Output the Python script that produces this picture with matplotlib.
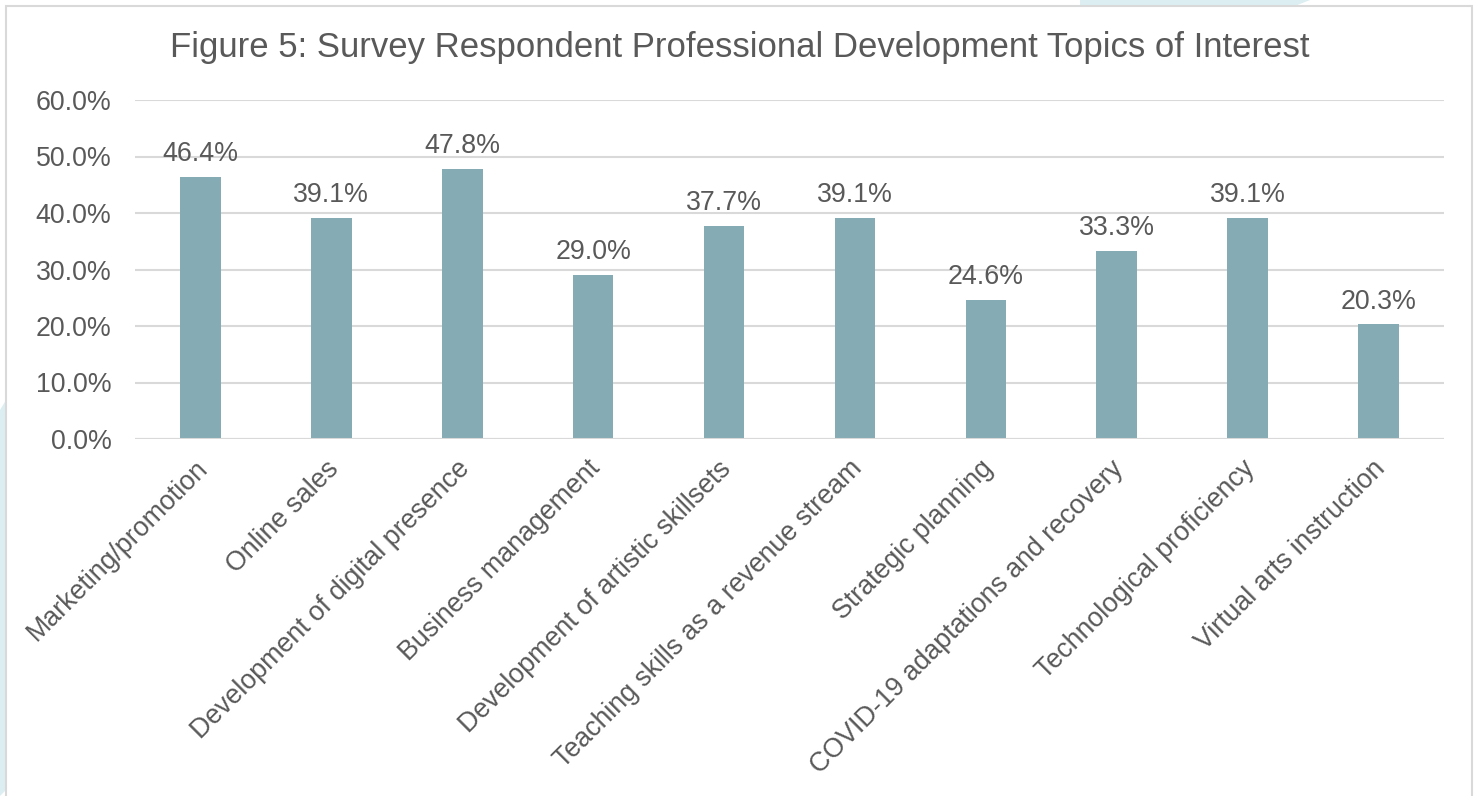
import matplotlib.pyplot as plt
from matplotlib.patches import Polygon, Rectangle
from matplotlib.transforms import ScaledTranslation
import numpy as np

categories = [
    "Marketing/promotion",
    "Online sales",
    "Development of digital presence",
    "Business management",
    "Development of artistic skillsets",
    "Teaching skills as a revenue stream",
    "Strategic planning",
    "COVID-19 adaptations and recovery",
    "Technological proficiency",
    "Virtual arts instruction",
]
values = [46.4, 39.1, 47.8, 29.0, 37.7, 39.1, 24.6, 33.3, 39.1, 20.3]
yticks = [0, 10, 20, 30, 40, 50, 60]

plt.rcParams['font.family'] = ['Liberation Sans', 'DejaVu Sans']
text_col = '#595959'
bar_col = '#85abb5'
grid_col = '#d9d9d9'
fs = 19.3

W, H = 1477, 796
fig = plt.figure(figsize=(W / 100, H / 100), dpi=100)
fig.patch.set_facecolor('white')

# light decorative shapes behind the chart frame
def fx(px):
    return px / W

def fy(py):
    return 1 - py / H

fig.patches.append(Polygon([(fx(1080), fy(0)), (fx(1310), fy(0)), (fx(1290), fy(8)), (fx(1080), fy(8))],
                           closed=True, transform=fig.transFigure, facecolor='#dceef2', edgecolor='none', zorder=-3))
fig.patches.append(Polygon([(fx(0), fy(410)), (fx(6), fy(400)), (fx(6), fy(790)), (fx(0), fy(796))],
                           closed=True, transform=fig.transFigure, facecolor='#dceef2', edgecolor='none', zorder=-3))
fig.patches.append(Rectangle((fx(6), fy(800)), fx(1472 - 6), fy(6) - fy(800), transform=fig.transFigure,
                             facecolor='white', edgecolor='#d9d9d9', linewidth=1.5, zorder=-2))

# plot area
left, right = 135, 1444
top, bottom = 100, 439
ax = fig.add_axes([fx(left), fy(bottom), fx(right - left), fy(top) - fy(bottom)])
ax.set_facecolor('none')

x = np.arange(len(categories))
ax.bar(x, values, width=0.31, color=bar_col, zorder=3)
ax.set_xlim(-0.5, len(categories) - 0.5)
ax.set_ylim(0, 60)
ax.set_yticks(yticks)
ax.set_yticklabels([f"{v:.1f}%" for v in yticks], fontsize=fs, color=text_col)
ax.yaxis.grid(True, color=grid_col, linewidth=1.5, zorder=0)
for s in ax.spines.values():
    s.set_visible(False)
ax.axhline(0, color=grid_col, linewidth=1.5, zorder=4)
ax.tick_params(axis='both', length=0)
ax.tick_params(axis='y', pad=17)

ax.set_xticks(x)
ax.set_xticklabels(categories, rotation=45, ha='right', va='top', rotation_mode='anchor',
                   fontsize=fs, color=text_col)
ax.tick_params(axis='x', pad=12)
shift = ScaledTranslation(-6 / 100, 0, fig.dpi_scale_trans)
for lbl in ax.get_xticklabels():
    lbl.set_transform(lbl.get_transform() + shift)

for xi, v in zip(x, values):
    ax.annotate(f"{v:.1f}%", (xi, v), xytext=(0, 7), textcoords='offset points',
                ha='center', va='bottom', fontsize=fs, color=text_col)

fig.text(fx(740), fy(47), "Figure 5: Survey Respondent Professional Development Topics of Interest",
         ha='center', va='center', fontsize=25, color=text_col)

fig.savefig('out.png', dpi=100)
